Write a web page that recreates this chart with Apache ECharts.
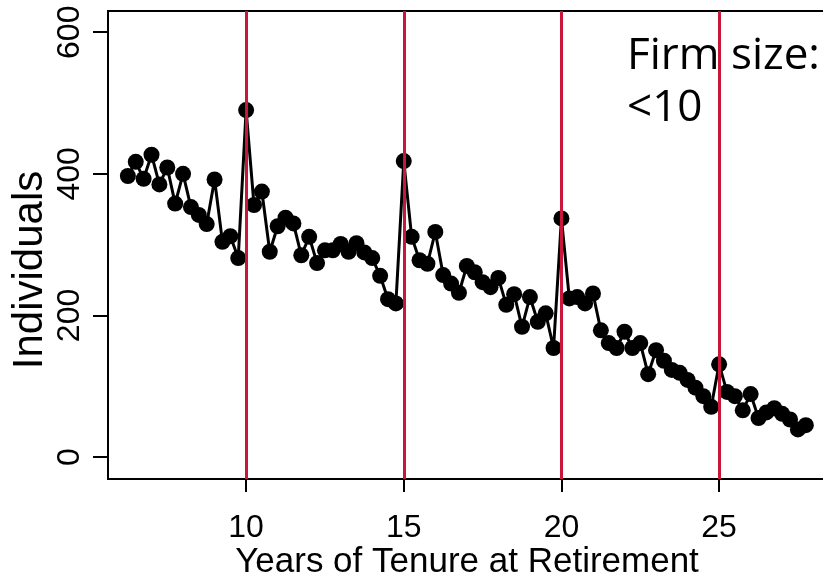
<!DOCTYPE html>
<html>
<head>
    <meta charset='utf-8'>
    <title>Individuals by tenure</title>
    <script src='https://cdn.jsdelivr.net/npm/echarts@6/dist/echarts.min.js'></script>
    <style>
        html, body { margin: 0; padding: 0; background: #fff; }
    </style>
</head>
<body>
    <div id='main' style='width: 823px;height:573px;'></div>
    <script type='text/javascript'>
        // years of tenure at retirement (quarterly steps)
        var tenure = [6.25, 6.5, 6.75, 7, 7.25, 7.5, 7.75, 8, 8.25, 8.5, 8.75, 9, 9.25, 9.5, 9.75,
            10, 10.25, 10.5, 10.75, 11, 11.25, 11.5, 11.75, 12, 12.25, 12.5, 12.75, 13, 13.25, 13.5, 13.75,
            14, 14.25, 14.5, 14.75, 15, 15.25, 15.5, 15.75, 16, 16.25, 16.5, 16.75, 17, 17.25, 17.5, 17.75,
            18, 18.25, 18.5, 18.75, 19, 19.25, 19.5, 19.75, 20, 20.25, 20.5, 20.75, 21, 21.25, 21.5, 21.75,
            22, 22.25, 22.5, 22.75, 23, 23.25, 23.5, 23.75, 24, 24.25, 24.5, 24.75, 25, 25.25, 25.5, 25.75,
            26, 26.25, 26.5, 26.75, 27, 27.25, 27.5, 27.75];

        // number of individuals
        var individuals = [397, 417, 393, 427, 385, 409, 358, 400, 353, 342, 329, 392, 304, 312, 281,
            490, 356, 375, 290, 326, 338, 330, 285, 311, 274, 292, 292, 301, 290, 302, 289,
            281, 256, 223, 217, 418, 311, 278, 273, 318, 257, 245, 232, 270, 261, 247, 240,
            253, 215, 230, 184, 226, 191, 203, 154, 337, 224, 226, 217, 231, 179, 161, 154,
            177, 154, 161, 117, 151, 136, 123, 119, 109, 98, 86, 71, 131, 92, 86, 66,
            89, 55, 63, 69, 61, 53, 39, 45];

        var xTicks = [10, 15, 20, 25];
        var yTicks = [0, 200, 400, 600];
        var cutoffs = [10, 15, 20, 25];

        var points = [];
        for (var i = 0; i < tenure.length; i++) {
            points.push([tenure[i], individuals[i]]);
        }

        var myChart = echarts.init(document.getElementById('main'));

        var option = {
            animation: false,
            grid: {
                left: 108,
                top: 11,
                right: -3,
                bottom: 94,
                outerBoundsMode: 'none',
                containLabel: false,
                show: true,
                borderColor: '#000',
                borderWidth: 2
            },
            xAxis: {
                type: 'value',
                min: 5.62,
                max: 28.39,
                name: 'Years of Tenure at Retirement',
                nameLocation: 'middle',
                nameGap: 66,
                nameMoveOverlap: false,
                nameTextStyle: { fontFamily: 'Liberation Sans', fontSize: 35, color: '#000' },
                axisLine: { onZero: false, lineStyle: { color: '#000', width: 2 } },
                axisTick: { customValues: xTicks, length: 13, lineStyle: { color: '#000', width: 2 } },
                axisLabel: { customValues: xTicks, margin: 33, fontFamily: 'Liberation Sans', fontSize: 32, color: '#000' },
                splitLine: { show: false }
            },
            yAxis: {
                type: 'value',
                min: -31,
                max: 630,
                name: 'Individuals',
                nameLocation: 'middle',
                nameGap: 57,
                nameMoveOverlap: false,
                nameRotate: 90,
                nameTextStyle: { fontFamily: 'Liberation Sans', fontSize: 42, color: '#000', padding: [0, 50, 0, 0] },
                axisLine: { onZero: false, lineStyle: { color: '#000', width: 2 } },
                axisTick: { customValues: yTicks, length: 15, lineStyle: { color: '#000', width: 2 } },
                axisLabel: { customValues: yTicks, rotate: 90, margin: 22, fontFamily: 'Liberation Sans', fontSize: 32, color: '#000' },
                splitLine: { show: false }
            },
            graphic: [
                { type: 'text', x: 627, y: 56, style: { text: 'Firm size:', font: '44px "Open Sans"', fill: '#000', verticalAlign: 'middle' } },
                { type: 'text', x: 627, y: 108, style: { text: '<10', font: '44px "Open Sans"', fill: '#000', verticalAlign: 'middle' } }
            ],
            series: [
                {
                    type: 'line',
                    data: [],
                    z: 1,
                    markLine: {
                        silent: true,
                        symbol: 'none',
                        label: { show: false },
                        lineStyle: { color: '#c8163c', width: 3, type: 'solid' },
                        data: cutoffs.map(function (c) { return { xAxis: c }; })
                    }
                },
                {
                    type: 'line',
                    data: points,
                    z: 2,
                    symbol: 'circle',
                    symbolSize: 16,
                    itemStyle: { color: '#000' },
                    lineStyle: { color: '#000', width: 3 }
                }
            ]
        };

        myChart.setOption(option);
    </script>
</body>
</html>
